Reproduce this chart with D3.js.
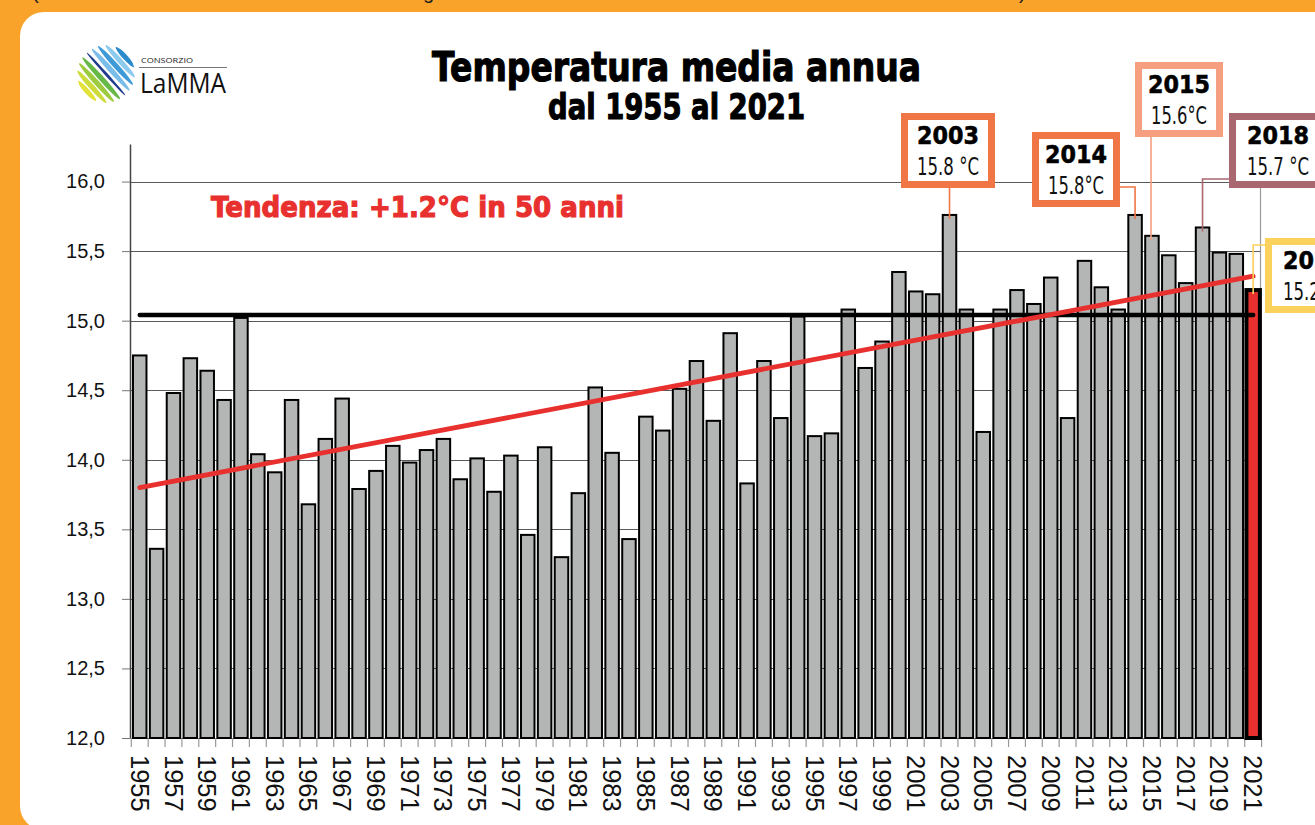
<!DOCTYPE html>
<html>
<head>
<meta charset="utf-8">
<script src="https://cdn.jsdelivr.net/npm/d3@7"></script>
<style>
  html, body { margin: 0; padding: 0; background: #f9a32b; }
  svg { display: block; }
</style>
</head>
<body>
<div id="chart"></div>
<script>
// annual mean temperature (°C), 1955 .. 2021
var years = d3.range(1955, 2022);
var temps = [
  14.75, 13.36, 14.48, 14.73, 14.64, 14.43, 15.02, 14.04, 13.91, 14.43,
  13.68, 14.15, 14.44, 13.79, 13.92, 14.10, 13.98, 14.07, 14.15, 13.86,
  14.01, 13.77, 14.03, 13.46, 14.09, 13.30, 13.76, 14.52, 14.05, 13.43,
  14.31, 14.21, 14.51, 14.71, 14.28, 14.91, 13.83, 14.71, 14.30, 15.03,
  14.17, 14.19, 15.08, 14.66, 14.85, 15.35, 15.21, 15.19, 15.76, 15.08,
  14.20, 15.08, 15.22, 15.12, 15.31, 14.30, 15.43, 15.24, 15.08, 15.76,
  15.61, 15.47, 15.27, 15.67, 15.49, 15.48, 15.22
];
var yTicks = [12.0, 12.5, 13.0, 13.5, 14.0, 14.5, 15.0, 15.5, 16.0];
var meanLine = [15.04, 15.04];           // reference value, first to last year
var trendLine = [13.80, 15.32];          // trend at first and last year
var annoYears = [2003, 2014, 2015, 2018, 2021];
var annoTitles = ["2003", "2014", "2015", "2018", "2021"];
var annoValues = ["15.8 °C", "15.8°C", "15.6°C", "15.7 °C", "15.2 °C"];

var W = 1315, H = 825;
var svg = d3.select("#chart").append("svg")
    .attr("width", W).attr("height", H)
    .style("overflow", "hidden");

// orange frame + white panel
svg.append("rect").attr("width", W).attr("height", H).attr("fill", "#f9a32b");
svg.append("rect")
    .attr("x", 20).attr("y", 12).attr("width", 1400).attr("height", 818)
    .attr("rx", 24).attr("fill", "#fff");

// bits of text cut off above the panel
[["(", 32], ["g", 423], [")", 1019]].forEach(function(t) {
  svg.append("text").attr("x", t[1]).attr("y", -1)
     .attr("font-family", "Liberation Sans, Arial").attr("font-size", 20)
     .attr("fill", "#222").text(t[0]);
});

var heavy = "'DejaVu Sans', Verdana, sans-serif";
var narrow = "'Liberation Sans Narrow', 'DejaVu Sans Condensed', 'Roboto', sans-serif";

// logo
var logo = svg.append("g");
var cx = 106, cy = 74, r = 29;
logo.append("clipPath").attr("id", "logoclip")
    .append("circle").attr("cx", cx).attr("cy", cy).attr("r", r);
var stripeCols = ["#e3e23a", "#cbdc3c", "#9ccb3e", "#66b947", "#1f3c8c", "#79bde8", "#3f9bd7", "#8ccbee", "#2b8acb"];
var sg = logo.append("g").attr("clip-path", "url(#logoclip)");
stripeCols.forEach(function(c, i) {
  var off = (i - 4) * 6.4;
  var len = Math.sqrt(Math.max(0, r * r - off * off));
  sg.append("ellipse")
    .attr("cx", 0).attr("cy", 0)
    .attr("rx", len).attr("ry", i == 4 ? 1.4 : 2.6)
    .attr("fill", c)
    .attr("transform", "translate(" + cx + "," + cy + ") rotate(48) translate(0," + (-off) + ")");
});
logo.append("text").attr("x", 141).attr("y", 63)
    .attr("font-family", "'Open Sans', sans-serif").attr("font-size", 8)
    .attr("textLength", 52).attr("lengthAdjust", "spacingAndGlyphs")
    .attr("fill", "#222").text("CONSORZIO");
logo.append("line").attr("x1", 139).attr("x2", 227).attr("y1", 67.5).attr("y2", 67.5)
    .attr("stroke", "#777").attr("stroke-width", 1);
logo.append("text").attr("x", 140).attr("y", 93)
    .attr("font-family", "'Open Sans', sans-serif").attr("font-size", 28)
    .attr("textLength", 86).attr("lengthAdjust", "spacingAndGlyphs")
    .attr("fill", "#111").text("LaMMA");

// titles
function heavyText(g, x, y, size, len, txt, col, anchor) {
  return g.append("text").attr("x", x).attr("y", y)
    .attr("font-family", heavy).attr("font-weight", "bold").attr("font-size", size)
    .attr("text-anchor", anchor || "start")
    .attr("textLength", len).attr("lengthAdjust", "spacingAndGlyphs")
    .attr("fill", col).attr("stroke", col).attr("stroke-width", 1.2)
    .text(txt);
}
heavyText(svg, 432, 81, 40, 489, "Temperatura media annua", "#000");
heavyText(svg, 548, 119, 36, 257, "dal 1955 al 2021", "#000");

// scales
var plotTop = 144, plotBottom = 738, axisX = 130;
var y = d3.scaleLinear().domain([12, 16.27]).range([plotBottom, plotTop]);
var x = d3.scaleBand().domain(years).range([131.3, 1261.6]).paddingInner(0.2).paddingOuter(0.1);
var step = x.step();
var cxOf = function(yr) { return x(yr) + x.bandwidth() / 2; };

// gridlines
svg.append("g").selectAll("line").data(yTicks.filter(function(d) { return d > 12; }))
  .enter().append("line")
    .attr("x1", axisX).attr("x2", 1261)
    .attr("y1", function(d) { return Math.round(y(d)) + 0.5; })
    .attr("y2", function(d) { return Math.round(y(d)) + 0.5; })
    .attr("stroke", "#5a5a5a").attr("stroke-width", 1);

// right border
svg.append("line").attr("x1", 1260.5).attr("x2", 1260.5).attr("y1", plotTop).attr("y2", plotBottom)
    .attr("stroke", "#9a9a9a").attr("stroke-width", 1.2);

// y axis
var fmt = d3.formatLocale({decimal: ",", thousands: ".", grouping: [3], currency: ["", "€"]}).format(".1f");
var yAxis = svg.append("g").attr("transform", "translate(" + axisX + ",0)")
    .call(d3.axisLeft(y).tickValues(yTicks).tickFormat(fmt).tickSize(8).tickSizeOuter(0).tickPadding(17));
yAxis.select(".domain").attr("stroke", "#444").attr("stroke-width", 1.5);
yAxis.selectAll(".tick line").attr("stroke", "#777");
yAxis.selectAll(".tick text").attr("font-family", "Liberation Sans, Arial, sans-serif")
    .attr("font-size", 20).attr("fill", "#111");

// x axis line + ticks at bar boundaries
svg.append("line").attr("x1", 125).attr("x2", 1262).attr("y1", plotBottom + 0.5).attr("y2", plotBottom + 0.5)
    .attr("stroke", "#777").attr("stroke-width", 1.2);
var bounds = years.map(function(yr) { return cxOf(yr) - step / 2; });
bounds.push(cxOf(years[years.length - 1]) + step / 2);
svg.append("g").selectAll("line").data(bounds).enter().append("line")
    .attr("x1", function(d) { return d; }).attr("x2", function(d) { return d; })
    .attr("y1", plotBottom).attr("y2", plotBottom + 9)
    .attr("stroke", "#999").attr("stroke-width", 1.2);

// year labels, every other year
svg.append("g").selectAll("text").data(years.filter(function(d, i) { return i % 2 == 0; }))
  .enter().append("text")
    .attr("transform", function(d) { return "translate(" + cxOf(d) + "," + (plotBottom + 17) + ") rotate(90)"; })
    .attr("dy", "0.35em")
    .attr("font-family", "Liberation Sans, Arial, sans-serif").attr("font-size", 25.5)
    .attr("fill", "#111")
    .text(function(d) { return d; });

// bars
var data = years.map(function(yr, i) { return {year: yr, t: temps[i]}; });
var last = years[years.length - 1];
svg.append("g").selectAll("rect").data(data).enter().append("rect")
    .attr("x", function(d) { return x(d.year); })
    .attr("width", x.bandwidth())
    .attr("y", function(d) { return y(d.t); })
    .attr("height", function(d) { return plotBottom - y(d.t); })
    .attr("fill", function(d) { return d.year == last ? "#e8302e" : "#b3b6b5"; })
    .attr("stroke", "#000")
    .attr("stroke-width", function(d) { return d.year == last ? 4 : 2; });

// mean + trend lines
var line = d3.line().x(function(d, i) { return cxOf(i == 0 ? years[0] : last); }).y(function(d) { return y(d); });
svg.append("path").attr("d", line(meanLine)).attr("fill", "none")
    .attr("stroke", "#000").attr("stroke-width", 4.5).attr("stroke-linecap", "round");
svg.append("path").attr("d", line(trendLine)).attr("fill", "none")
    .attr("stroke", "#e8302e").attr("stroke-width", 4.8).attr("stroke-linecap", "round");

heavyText(svg, 211, 217, 29, 413, "Tendenza: +1.2°C in 50 anni", "#e8302e");

// annotation boxes (layout by year)
var boxLayout = {
  2003: {x: 901, y: 113, w: 94, h: 75, col: "#f07645", link: "down"},
  2014: {x: 1032, y: 132, w: 88, h: 75, col: "#f07645", link: "right", ly: 187},
  2015: {x: 1135, y: 62, w: 88, h: 75, col: "#f59e80", link: "down", lx: 1151},
  2018: {x: 1229, y: 113, w: 110, h: 75, col: "#a9676f", link: "left", ly: 179},
  2021: {x: 1265, y: 238, w: 90, h: 75, col: "#fcd25c", link: "left", ly: 245}
};
annoYears.forEach(function(yr, i) {
  var b = boxLayout[yr];
  var bx = cxOf(yr);
  var top = y(temps[years.indexOf(yr)]) + 4;
  var pts;
  if (b.link == "down") {
    var lx = b.lx || bx;
    pts = [[lx, b.y + b.h], [lx, top]];
  } else if (b.link == "right") {
    pts = [[b.x + b.w, b.ly], [bx, b.ly], [bx, top]];
  } else {
    pts = [[b.x, b.ly], [bx, b.ly], [bx, top]];
  }
  svg.append("path").attr("d", d3.line()(pts)).attr("fill", "none")
      .attr("stroke", b.col).attr("stroke-width", 1.6);
  svg.append("rect").attr("x", b.x + 3.5).attr("y", b.y + 3.5)
      .attr("width", b.w - 7).attr("height", b.h - 7)
      .attr("fill", "#fff").attr("stroke", b.col).attr("stroke-width", 7);
  var tx = yr == 2018 ? 1247 : (yr == 2021 ? 1283 : b.x + b.w / 2);
  var anchor = (yr == 2018 || yr == 2021) ? "start" : "middle";
  heavyText(svg, tx, b.y + 31, 25, 62, annoTitles[i], "#000", anchor).attr("stroke-width", 0.6);
  svg.append("text").attr("x", tx).attr("y", b.y + 62)
      .attr("text-anchor", anchor)
      .attr("font-family", narrow).attr("font-size", 24)
      .attr("font-stretch", "condensed")
      .attr("textLength", annoValues[i].indexOf(" ") > 0 ? 62 : 56).attr("lengthAdjust", "spacingAndGlyphs")
      .attr("fill", "#111").text(annoValues[i]);
});
</script>
</body>
</html>
